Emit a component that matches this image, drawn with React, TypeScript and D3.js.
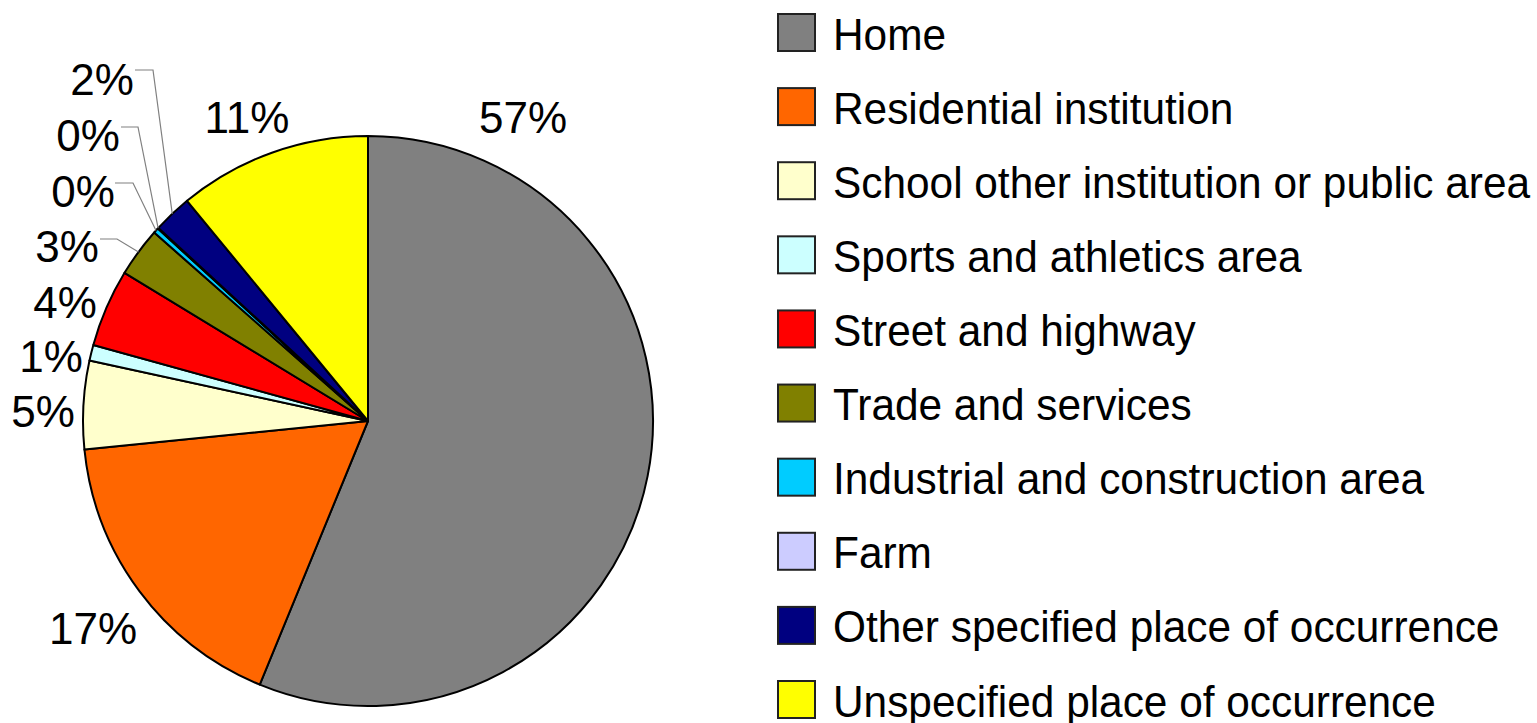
import * as d3 from "d3";

// place of occurrence categories, clockwise from 12 o'clock
const categories = [
  "Home",
  "Residential institution",
  "School other institution or public area",
  "Sports and athletics area",
  "Street and highway",
  "Trade and services",
  "Industrial and construction area",
  "Farm",
  "Other specified place of occurrence",
  "Unspecified place of occurrence",
];
const shares = [56.2, 17.2, 5.0, 0.9, 4.4, 2.8, 0.3, 0.05, 2.2, 10.95];
const shareLabels = ["57%", "17%", "5%", "1%", "4%", "3%", "0%", "0%", "2%", "11%"];
const colors = [
  "#808080",
  "#FF6600",
  "#FFFFCC",
  "#CCFFFF",
  "#FF0000",
  "#808000",
  "#00CCFF",
  "#CCCCFF",
  "#000080",
  "#FFFF00",
];

// where Excel put the labels (text centre x, baseline y)
const labelPos: [number, number][] = [
  [523, 133],
  [93, 644],
  [43, 427],
  [51, 372],
  [65, 318],
  [67, 262],
  [83, 207],
  [88, 151],
  [102, 95],
  [247, 133],
];
// leader lines: [start x, elbow x, y] for the small slices
const leaders: Record<number, [number, number, number]> = {
  5: [100, 117, 239],
  6: [115, 133, 183],
  7: [121, 138, 127],
  8: [135, 153, 70],
};

const W = 1537;
const H = 723;
const cx = 368;
const cy = 421;
const R = 285;
const font = "'Liberation Sans', Arial, sans-serif";

export default function App() {
  const data = categories.map((c, i) => ({ c, v: shares[i], i }));
  const pie = d3
    .pie<{ c: string; v: number; i: number }>()
    .sort(null)
    .value((d) => d.v)
    .startAngle(0)
    .endAngle(2 * Math.PI);
  const arcs = pie(data);
  const arc = d3
    .arc<d3.PieArcDatum<{ c: string; v: number; i: number }>>()
    .innerRadius(0)
    .outerRadius(R);

  const edge = (a: d3.PieArcDatum<any>) => {
    const m = (a.startAngle + a.endAngle) / 2;
    return [cx + R * Math.sin(m), cy - R * Math.cos(m)];
  };

  const legendY = d3
    .scalePoint<string>()
    .domain(categories)
    .range([32, 699]);

  return (
    <svg
      width={W}
      height={H}
      style={{ position: "absolute", left: 0, top: 0, background: "#fff" }}
      fontFamily={font}
    >
      <g transform={`translate(${cx},${cy})`}>
        {arcs.map((a) => (
          <path
            key={a.data.c}
            d={arc(a) || ""}
            fill={colors[a.data.i]}
            stroke="#000"
            strokeWidth={2}
            strokeLinejoin="round"
          />
        ))}
      </g>

      {arcs.map((a) => {
        const l = leaders[a.data.i];
        if (!l) return null;
        const [ex, ey] = edge(a);
        return (
          <path
            key={"l" + a.data.c}
            d={`M${l[0]},${l[2]}H${l[1]}L${ex},${ey}`}
            fill="none"
            stroke="#808080"
            strokeWidth={1.2}
          />
        );
      })}

      {shareLabels.map((t, i) => (
        <text
          key={"t" + i}
          x={labelPos[i][0]}
          y={labelPos[i][1]}
          textAnchor="middle"
          fontSize={44}
          fill="#000"
        >
          {t}
        </text>
      ))}

      {categories.map((c, i) => {
        const y = legendY(c) as number;
        return (
          <g key={"lg" + c}>
            <rect
              x={778}
              y={y - 18}
              width={37}
              height={37}
              fill={colors[i]}
              stroke="#222"
              strokeWidth={2}
            />
            <text
              transform={`translate(833,${y + 17.5}) scale(0.963,1)`}
              fontSize={44}
              fill="#000"
            >
              {c}
            </text>
          </g>
        );
      })}
    </svg>
  );
}
